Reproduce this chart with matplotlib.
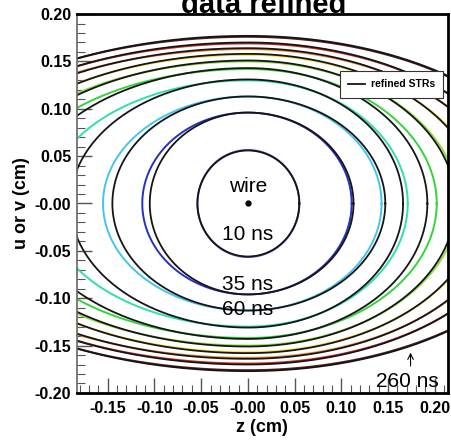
import numpy as np
import matplotlib
matplotlib.use("Agg")
import matplotlib.pyplot as plt
from matplotlib.ticker import MultipleLocator, FixedLocator, FixedFormatter

plt.rcParams['font.family'] = ['Liberation Sans', 'DejaVu Sans']

# drift times of the isochrones (ns)
times = [10, 35, 60, 85, 110, 135, 160, 185, 210, 260]
# measured isochrones: half height, left and right half width (cm)
half_h = [0.0565, 0.096, 0.113, 0.130, 0.142, 0.150, 0.157, 0.163, 0.169, 0.176]
half_wl = [0.054, 0.113, 0.155, 0.215, 0.260, 0.290, 0.310, 0.345, 0.355, 0.370]
half_wr = [0.055, 0.111, 0.143, 0.171, 0.202, 0.225, 0.250, 0.275, 0.295, 0.330]
# refined STR isochrones
ref_h = [0.0560, 0.096, 0.113, 0.131, 0.143, 0.151, 0.158, 0.164, 0.170, 0.177]
ref_wl = [0.054, 0.105, 0.145, 0.190, 0.240, 0.280, 0.305, 0.335, 0.350, 0.365]
ref_wr = [0.055, 0.113, 0.147, 0.166, 0.192, 0.222, 0.248, 0.273, 0.293, 0.330]
colors = ['#5a5ad8', '#2233c0', '#45c4ee', '#2fe0a8', '#35d43a', '#8ee040',
          '#f2e23a', '#f08a30', '#d42a20', '#5a1a1a']

xticks = [-0.15, -0.10, -0.05, 0.0, 0.05, 0.10, 0.15, 0.20]
xlabels = ['-0.15', '-0.10', '-0.05', '-0.00', '0.05', '0.10', '0.15', '0.20']
yticks = [-0.20, -0.15, -0.10, -0.05, 0.0, 0.05, 0.10, 0.15, 0.20]
ylabels = ['-0.20', '-0.15', '-0.10', '-0.05', '-0.00', '0.05', '0.10', '0.15', '0.20']


def isochrone(h, wl, wr, n=721):
    th = np.linspace(0, 2 * np.pi, n)
    c, s = np.cos(th), np.sin(th)
    x = np.where(c > 0, wr, wl) * c
    y = h * s
    return x, y


fig = plt.figure(figsize=(4.52, 4.40), dpi=100)
ax = fig.add_axes([0.170, 0.107, 0.821, 0.861])

for i in range(len(times)):
    x, y = isochrone(half_h[i], half_wl[i], half_wr[i])
    ax.plot(x, y, color=colors[i], lw=1.4)
for i in range(len(times)):
    x, y = isochrone(ref_h[i], ref_wl[i], ref_wr[i])
    ax.plot(x, y, color='#151515', lw=1.3,
            label='refined STRs' if i == 0 else None)

ax.plot([0], [0], 'o', color='black', ms=3.5)
ax.text(0.0, 0.008, 'wire', ha='center', va='bottom', fontsize=15)
ax.text(0.0, -0.023, '10 ns', ha='center', va='top', fontsize=15)
ax.text(0.0, -0.075, '35 ns', ha='center', va='top', fontsize=15)
ax.text(0.0, -0.102, '60 ns', ha='center', va='top', fontsize=15)
ax.text(0.171, -0.188, '260 ns', ha='center', va='center', fontsize=15)
ax.annotate('', xy=(0.174, -0.1545), xytext=(0.174, -0.1745),
            arrowprops=dict(arrowstyle='->', color='black', lw=0.8))

ax.set_xlim(-0.183, 0.214)
ax.set_ylim(-0.20, 0.20)
ax.xaxis.set_major_locator(FixedLocator(xticks))
ax.xaxis.set_major_formatter(FixedFormatter(xlabels))
ax.yaxis.set_major_locator(FixedLocator(yticks))
ax.yaxis.set_major_formatter(FixedFormatter(ylabels))
ax.xaxis.set_minor_locator(MultipleLocator(0.01))
ax.yaxis.set_minor_locator(MultipleLocator(0.01))
ax.tick_params(which='major', direction='in', length=11, width=1.0, color='#555555',
               labelsize=11.5)
ax.tick_params(which='minor', direction='in', length=6, width=0.8, color='#555555')
ax.tick_params(axis='x', which='major', pad=6)
ax.tick_params(axis='y', which='major', pad=4)
for lab in ax.get_xticklabels() + ax.get_yticklabels():
    lab.set_fontweight('bold')
for side in ['top', 'right', 'bottom']:
    ax.spines[side].set_linewidth(2.0)
ax.spines['left'].set_linewidth(1.2)
ax.spines['left'].set_color('#666666')

ax.set_xlabel('z (cm)', fontsize=13, fontweight='bold', labelpad=2)
ax.set_ylabel('u or v (cm)', fontsize=13, fontweight='bold', labelpad=3)

leg = ax.legend(loc='upper right', bbox_to_anchor=(0.993, 0.855), fontsize=7.5,
                frameon=True, fancybox=False, handlelength=1.6, handletextpad=0.6,
                borderpad=0.8, borderaxespad=0.2)
leg.get_frame().set_edgecolor('#333333')
leg.get_frame().set_linewidth(0.8)
leg.get_frame().set_alpha(1.0)
for t in leg.get_texts():
    t.set_fontweight('bold')

fig.text(0.584, 1 - 13 / 440, 'data refined', ha='center', va='baseline',
         fontsize=21, fontweight='bold')

fig.savefig('out.png', dpi=100)
